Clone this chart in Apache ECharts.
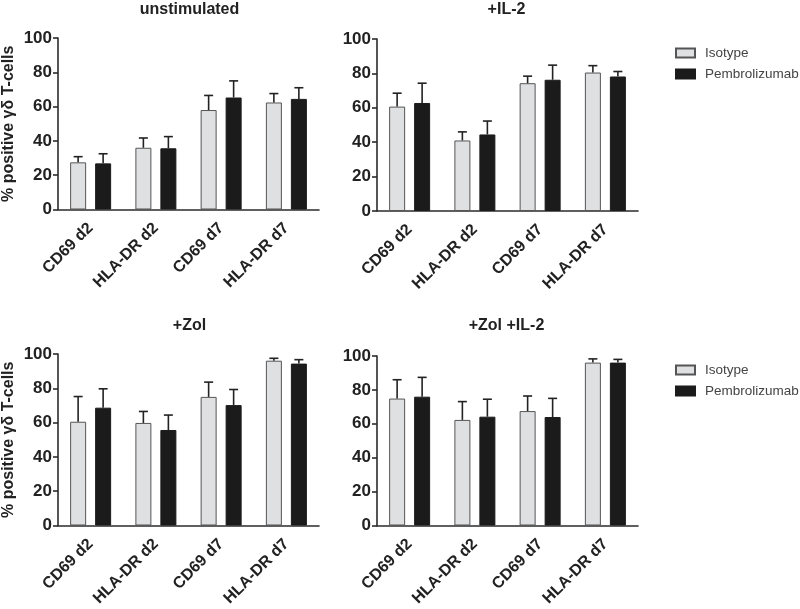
<!DOCTYPE html>
<html>
<head>
<meta charset="utf-8">
<script src="https://cdn.jsdelivr.net/npm/echarts@6/dist/echarts.min.js"></script>
<style>html,body{margin:0;padding:0;background:#fff;}#c{width:800px;height:609px;}</style>
</head>
<body>
<div id="c"></div>
<script>
const categories = ['CD69 d2', 'HLA-DR d2', 'CD69 d7', 'HLA-DR d7'];
const panelTitles = ['unstimulated', '+IL-2', '+Zol', '+Zol +IL-2'];
const yTicks = [0, 20, 40, 60, 80, 100];
const seriesNames = ['Isotype', 'Pembrolizumab'];

const isoMean1 = [27.5, 36.0, 58.0, 62.4];
const isoSd1   = [3.3, 5.7, 8.5, 5.2];
const pemMean1 = [26.9, 35.7, 65.3, 64.5];
const pemSd1   = [5.6, 6.8, 9.7, 6.5];

const isoMean2 = [60.7, 41.0, 74.3, 80.5];
const isoSd2   = [7.8, 5.0, 4.1, 4.0];
const pemMean2 = [62.8, 44.5, 76.3, 78.2];
const pemSd2   = [11.5, 7.8, 8.5, 2.9];

const isoMean3 = [60.5, 59.8, 75.0, 96.1];
const isoSd3   = [14.7, 6.7, 8.6, 1.4];
const pemMean3 = [68.7, 55.7, 70.2, 94.4];
const pemSd3   = [11.0, 8.7, 9.1, 2.3];

const isoMean4 = [74.9, 62.3, 67.5, 96.1];
const isoSd4   = [11.1, 10.8, 8.9, 2.2];
const pemMean4 = [76.0, 64.2, 64.0, 96.1];
const pemSd4   = [11.4, 10.3, 11.0, 1.9];

const panels = [
  {iso: isoMean1, isoSd: isoSd1, pem: pemMean1, pemSd: pemSd1},
  {iso: isoMean2, isoSd: isoSd2, pem: pemMean2, pemSd: pemSd2},
  {iso: isoMean3, isoSd: isoSd3, pem: pemMean3, pemSd: pemSd3},
  {iso: isoMean4, isoSd: isoSd4, pem: pemMean4, pemSd: pemSd4}
];

const FONT = '"Liberation Sans", Arial, sans-serif';
const AX = '#2b2b2b';
const BAR_W = 16, GAP_PX = 9, CAP = 9;
const OFFSET = (BAR_W + GAP_PX) / 2;

const gridsPos = [
  {left: 58, top: 38, width: 261, height: 171.5},
  {left: 377, top: 39, width: 261, height: 172},
  {left: 58, top: 354, width: 261, height: 173},
  {left: 377, top: 356, width: 261, height: 172}
];

const grid = [], xAxis = [], yAxis = [], series = [], title = [];

function errRender(offset) {
  return function (params, api) {
    const idx = api.value(0), mean = api.value(1), hi = api.value(2);
    const p0 = api.coord([idx, mean]);
    const p1 = api.coord([idx, hi]);
    const x = p0[0] + offset;
    const st = {stroke: '#222', lineWidth: 1.6};
    return {type: 'group', children: [
      {type: 'line', shape: {x1: x, y1: p0[1], x2: x, y2: p1[1]}, style: st},
      {type: 'line', shape: {x1: x - CAP / 2, y1: p1[1], x2: x + CAP / 2, y2: p1[1]}, style: st}
    ]};
  };
}

panels.forEach((p, i) => {
  const g = gridsPos[i];
  grid.push(Object.assign({containLabel: false}, g));
  title.push({
    text: panelTitles[i],
    left: g.left + g.width / 2 - 5 + (i % 2 === 0 ? 1 : -1),
    top: (i < 2 ? -3 : 313),
    textAlign: 'center',
    textStyle: {fontFamily: FONT, fontWeight: 'bold', fontSize: 16, color: '#222'}
  });
  xAxis.push({
    type: 'category', gridIndex: i, data: categories,
    axisLine: {lineStyle: {color: AX, width: 1.6}},
    axisTick: {alignWithLabel: true, length: 5, lineStyle: {color: AX, width: 1.6}},
    axisLabel: {rotate: 45, margin: 16, interval: 0, fontFamily: FONT, fontWeight: 'bold', fontSize: 16, color: '#222'}
  });
  yAxis.push({
    type: 'value', gridIndex: i, min: 0, max: 100, interval: 20,
    name: (i % 2 === 0) ? '% positive γδ T-cells' : '',
    nameLocation: 'middle', nameRotate: 90, nameGap: 41,
    nameTextStyle: {fontFamily: FONT, fontWeight: 'bold', fontSize: 16, color: '#222'},
    axisLine: {show: true, lineStyle: {color: AX, width: 1.6}},
    axisTick: {show: true, length: 5, lineStyle: {color: AX, width: 1.6}},
    splitLine: {show: false},
    axisLabel: {margin: 6, fontFamily: FONT, fontWeight: 'bold', fontSize: 17, color: '#222',
      formatter: v => yTicks.indexOf(v) >= 0 ? String(v) : ''}
  });
  series.push({
    name: seriesNames[0], type: 'bar', xAxisIndex: i, yAxisIndex: i,
    data: p.iso, barWidth: BAR_W, barGap: (GAP_PX / BAR_W * 100) + '%',
    itemStyle: {color: '#dfe0e2', borderColor: '#555', borderWidth: 1}
  });
  series.push({
    name: seriesNames[1], type: 'bar', xAxisIndex: i, yAxisIndex: i,
    data: p.pem, barWidth: BAR_W, barGap: (GAP_PX / BAR_W * 100) + '%',
    itemStyle: {color: '#1b1b1b', borderColor: '#1b1b1b', borderWidth: 1}
  });
  series.push({
    name: 'errIso' + i, type: 'custom', xAxisIndex: i, yAxisIndex: i, z: 5,
    renderItem: errRender(-OFFSET), encode: {x: 0, y: [1, 2]},
    data: p.iso.map((m, k) => [k, m, m + p.isoSd[k]])
  });
  series.push({
    name: 'errPem' + i, type: 'custom', xAxisIndex: i, yAxisIndex: i, z: 5,
    renderItem: errRender(OFFSET), encode: {x: 0, y: [1, 2]},
    data: p.pem.map((m, k) => [k, m, m + p.pemSd[k]])
  });
});

const legendCommon = {
  orient: 'vertical', left: 670, itemWidth: 19, itemHeight: 9, itemGap: 7,
  icon: 'rect', selectedMode: false,
  textStyle: {fontFamily: FONT, fontSize: 13.5, color: '#444', padding: [0, 0, 0, 5]},
  data: seriesNames
};

const chart = echarts.init(document.getElementById('c'), null, {renderer: 'canvas'});
chart.setOption({
  animation: false,
  backgroundColor: '#fff',
  title: title,
  legend: [
    Object.assign({top: 41}, legendCommon),
    Object.assign({top: 358}, legendCommon)
  ],
  grid: grid, xAxis: xAxis, yAxis: yAxis, series: series
});
</script>
</body>
</html>
